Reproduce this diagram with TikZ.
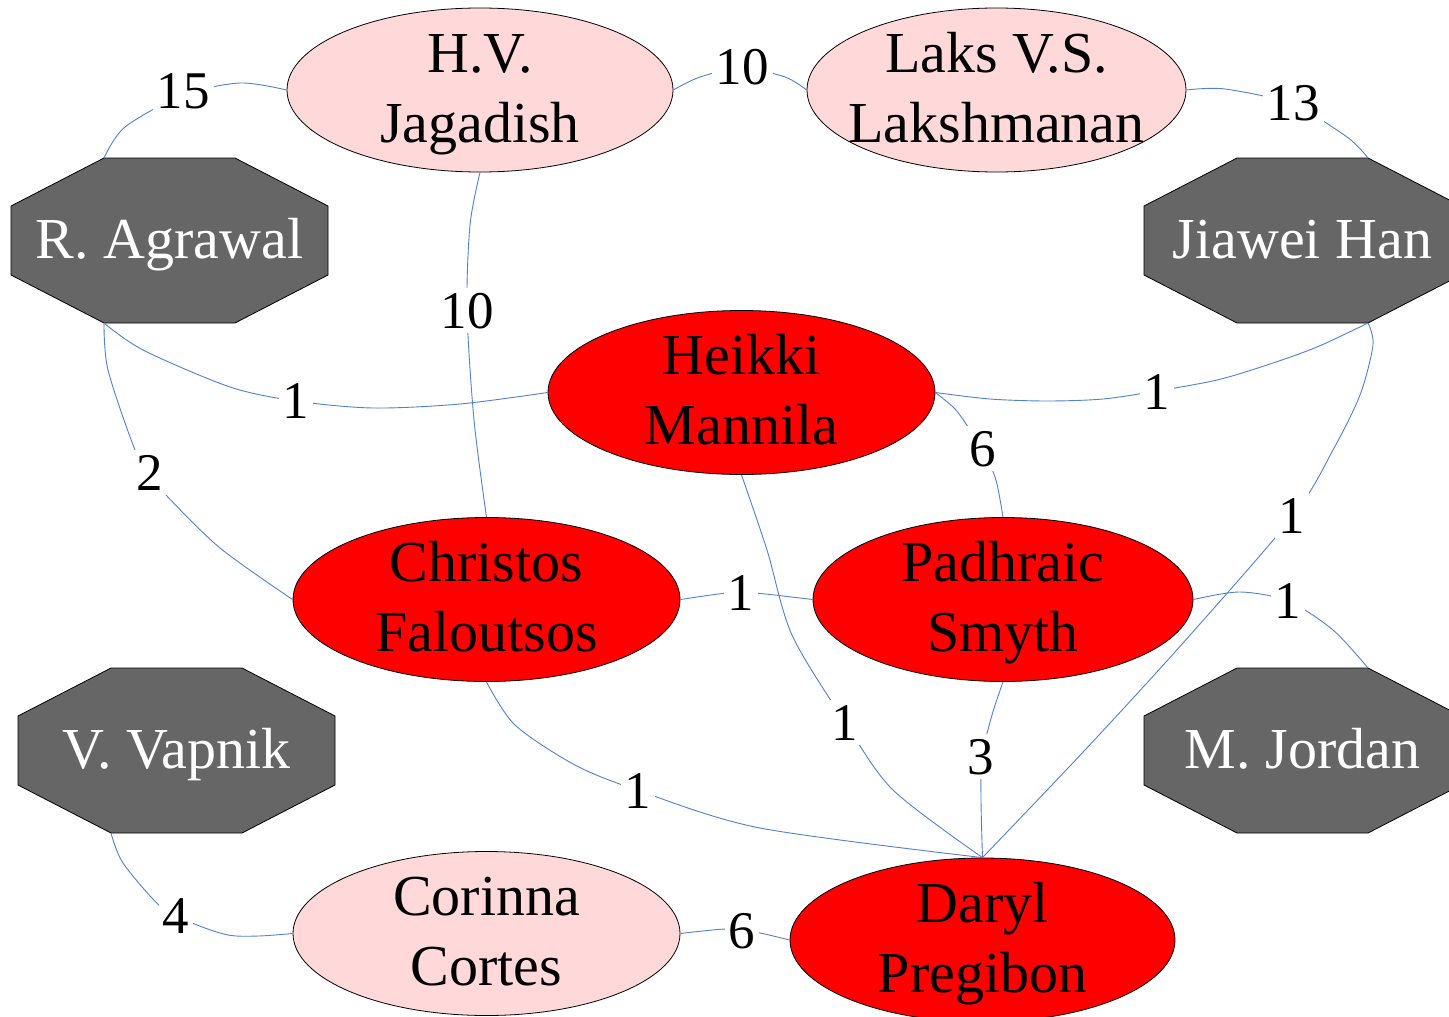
\documentclass[tikz,border=0pt]{standalone}
\usepackage{fontspec}
\setmainfont{Liberation Serif}
\usetikzlibrary{shapes.geometric,calc}
\definecolor{edgeblue}{RGB}{80,130,210}
\definecolor{pinkfill}{RGB}{255,217,217}
\definecolor{octgray}{RGB}{102,102,102}
\newcommand\nameblock[2]{\rule{0pt}{40pt}\smash{#1}\\\smash{#2}\rule[-6pt]{0pt}{6pt}}
\newcommand\octnode[3]{%
  \filldraw[octshape, shift={(#2)}] (-65.5,82.5) -- (65.5,82.5) -- (158.5,34.5) -- (158.5,-34.5) -- (65.5,-82.5) -- (-65.5,-82.5) -- (-158.5,-34.5) -- (-158.5,34.5) -- cycle;
  \node[octo] (#1) at (#2) {#3};}
\begin{document}
\begin{tikzpicture}[x=1pt,y=1pt,
  namefont/.style={font=\fontsize{58}{70}\selectfont},
  person/.style={ellipse, draw=black, line width=0.8pt, inner xsep=-100pt, inner ysep=-60pt, align=center, namefont},
  core/.style={person, fill=red},
  guest/.style={person, fill=pinkfill},
  octshape/.style={fill=octgray, draw=black, line width=0.8pt},
  octo/.style={rectangle, minimum width=317pt, minimum height=165pt, inner sep=0pt, text=white, namefont, text height=40pt, text depth=4pt},
  link/.style={draw=edgeblue, line width=0.9pt},
  wlabel/.style={fill=white, inner sep=4pt, font=\fontsize{53}{60}\selectfont, text height=37pt, text depth=0pt}
]
\useasboundingbox (0,0) rectangle (1449,-1017);
\fill[white] (0,0) rectangle (1449,-1017);
\clip (0,0) rectangle (1449,-1017);

% octagon nodes
\octnode{ra}{169.5,-240.5}{R. Agrawal}
\octnode{jh}{1302.5,-240.5}{Jiawei Han}
\octnode{vv}{176.5,-750.5}{V. Vapnik}
\octnode{mj}{1302.5,-750.5}{M. Jordan}
\coordinate (ra-tl) at ($(ra)+(-65.5,82.5)$);
\coordinate (ra-bl) at ($(ra)+(-65.5,-82.5)$);
\coordinate (jh-tr) at ($(jh)+(65.5,82.5)$);
\coordinate (jh-br) at ($(jh)+(65.5,-82.5)$);
\coordinate (vv-bl) at ($(vv)+(-65.5,-82.5)$);
\coordinate (mj-tr) at ($(mj)+(65.5,82.5)$);

% ellipse nodes
\node[guest, minimum width=386pt, minimum height=164pt] (hv) at (480,-90) {\nameblock{H.V.}{Jagadish}};
\node[guest, minimum width=379pt, minimum height=164pt] (laks) at (996.5,-90) {\nameblock{Laks V.S.}{Lakshmanan}};
\node[core, minimum width=387pt, minimum height=164pt] (heikki) at (741.5,-392.5) {\nameblock{Heikki}{Mannila}};
\node[core, minimum width=387pt, minimum height=164pt] (christos) at (486.5,-599.5) {\nameblock{Christos}{Faloutsos}};
\node[core, minimum width=380pt, minimum height=164pt] (padhraic) at (1003,-599.5) {\nameblock{Padhraic}{Smyth}};
\node[guest, minimum width=387pt, minimum height=164pt] (corinna) at (486.5,-933.5) {\nameblock{Corinna}{Cortes}};
\node[core, minimum width=385pt, minimum height=164pt] (daryl) at (982.5,-940) {\nameblock{Daryl}{Pregibon}};

% connectors
\draw[link] plot[smooth] coordinates {(ra-tl) (125,-127) (183,-95) (240,-83) (hv.west)};
\draw[link] plot[smooth] coordinates {(hv.east) (700,-77) (742,-68) (785,-77) (laks.west)};
\draw[link] plot[smooth] coordinates {(laks.east) (1225,-89) (1292,-104) (1347,-137) (jh-tr)};
\draw[link] plot[smooth] coordinates {(hv.south) (470,-225) (467,-310) (474,-420) (christos.north)};
\draw[link] plot[smooth] coordinates {(ra-bl) (143,-350) (230,-387) (296,-401) (373,-408) (460,-404) (heikki.west)};
\draw[link] plot[smooth] coordinates {(ra-bl) (108,-370) (135,-450) (150,-475) (165,-494) (220,-548) (christos.west)};
\draw[link] plot[smooth] coordinates {(heikki.east) (990,-399) (1047,-401) (1103,-399) (1157,-391) (1217,-380) (1267,-365) (1317,-347) (jh-br)};
\draw[link] plot[smooth] coordinates {(heikki.east) (955,-409) (970,-430) (985,-455) (996,-480) (padhraic.north)};
\draw[link] plot[smooth] coordinates {(heikki.south) (767,-550) (792,-635) (845,-722) (893,-790) (daryl.north)};
\draw[link] plot[smooth] coordinates {(christos.east) (727,-593) (755,-593) (padhraic.west)};
\draw[link] plot[smooth] coordinates {(christos.south) (515,-725) (575,-765) (637,-790) (760,-828) (daryl.north)};
\draw[link] plot[smooth] coordinates {(jh-br) (1373,-345) (1360,-395) (1333,-450) (1293,-516) (1183,-643) (1085,-750) (daryl.north)};
\draw[link] plot[smooth] coordinates {(padhraic.east) (1240,-592) (1288,-601) (1333,-630) (mj-tr)};
\draw[link] plot[smooth] coordinates {(padhraic.south) (992,-715) (982,-757) (981,-800) (daryl.north)};
\draw[link] plot[smooth] coordinates {(vv-bl) (123,-863) (161,-907) (192,-923) (228,-935) (259,-936) (corinna.west)};
\draw[link] plot[smooth] coordinates {(corinna.east) (726,-929) (755,-932) (daryl.west)};

% weight labels
\node[wlabel] (w1) at (183,-90) {15};
\node[wlabel] (w2) at (742,-66) {10};
\node[wlabel] (w3) at (1293,-102) {13};
\node[wlabel] (w4) at (467,-310) {10};
\node[wlabel] (w5) at (296,-400) {1};
\node[wlabel] (w6) at (150,-472) {2};
\node[wlabel] (w7) at (1157,-391) {1};
\node[wlabel] (w8) at (983,-448) {6};
\node[wlabel] (w9) at (845,-722) {1};
\node[wlabel] (w10) at (741,-592) {1};
\node[wlabel] (w11) at (638,-790) {1};
\node[wlabel] (w12) at (1292,-515) {1};
\node[wlabel] (w13) at (1288,-600) {1};
\node[wlabel] (w14) at (981,-756) {3};
\node[wlabel] (w15) at (176,-915) {4};
\node[wlabel] (w16) at (742,-930) {6};
\end{tikzpicture}
\end{document}
